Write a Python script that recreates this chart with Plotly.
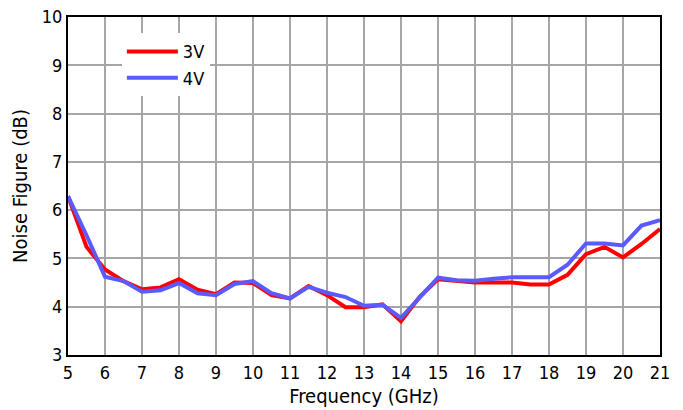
import plotly.graph_objects as go

freq = [5, 5.5, 6, 6.5, 7, 7.5, 8, 8.5, 9, 9.5, 10, 10.5, 11, 11.5, 12, 12.5, 13,
        13.5, 14, 14.5, 15, 15.5, 16, 16.5, 17, 17.5, 18, 18.5, 19, 19.5, 20, 20.5, 21]
nf_3v = [6.29, 5.24, 4.77, 4.53, 4.36, 4.40, 4.57, 4.35, 4.26, 4.50, 4.49, 4.24, 4.17,
         4.43, 4.24, 3.99, 3.99, 4.05, 3.70, 4.20, 4.57, 4.53, 4.50, 4.50, 4.50, 4.46,
         4.46, 4.66, 5.09, 5.24, 5.02, 5.30, 5.61]
nf_4v = [6.29, 5.48, 4.62, 4.53, 4.31, 4.34, 4.49, 4.28, 4.24, 4.47, 4.53, 4.28, 4.17,
         4.41, 4.29, 4.20, 4.02, 4.04, 3.77, 4.20, 4.60, 4.55, 4.54, 4.58, 4.61, 4.61,
         4.61, 4.87, 5.31, 5.31, 5.27, 5.68, 5.79]
series_names = ["3V", "4V"]
series_colors = ["#ff0000", "#5a5aff"]

FONT = "DejaVu Sans Condensed, DejaVu Sans, sans-serif"
TICK_FS = 18
TITLE_FS = 20

fig = go.Figure()
for name, ys, col in zip(series_names, [nf_3v, nf_4v], series_colors):
    fig.add_trace(go.Scatter(x=freq, y=ys, mode="lines", name=name,
                             line=dict(color=col, width=4)))

axis_common = dict(showgrid=True, gridcolor="#a6a6a6", gridwidth=2,
                   showline=True, linecolor="black", linewidth=2, mirror=True,
                   zeroline=False, ticks="", automargin=False,
                   ticklabeloverflow="allow",
                   tickfont=dict(size=TICK_FS, color="black", family=FONT))

fig.update_xaxes(range=[5, 21], dtick=1, tick0=5,
                 title=dict(text="Frequency (GHz)", font=dict(size=TITLE_FS, color="black", family=FONT), standoff=7),
                 **axis_common)
fig.update_yaxes(range=[3, 10], dtick=1, tick0=3,
                 title=dict(text="Noise Figure (dB)", font=dict(size=TITLE_FS, color="black", family=FONT), standoff=9),
                 **axis_common)

fig.update_layout(
    width=683, height=410,
    margin=dict(l=68, r=23, t=17, b=55),
    plot_bgcolor="white", paper_bgcolor="white",
    font=dict(family=FONT, size=TICK_FS, color="black"),
    showlegend=True,
    legend=dict(x=0.091, y=0.952, xanchor="left", yanchor="top",
                bgcolor="white", borderwidth=0,
                font=dict(size=18, family=FONT, color="black"),
                itemwidth=51, tracegroupgap=0),
)

fig.write_html("out.html",
               config={"displayModeBar": False},
               post_script="document.body.style.margin='0px';document.body.style.overflow='hidden';")
